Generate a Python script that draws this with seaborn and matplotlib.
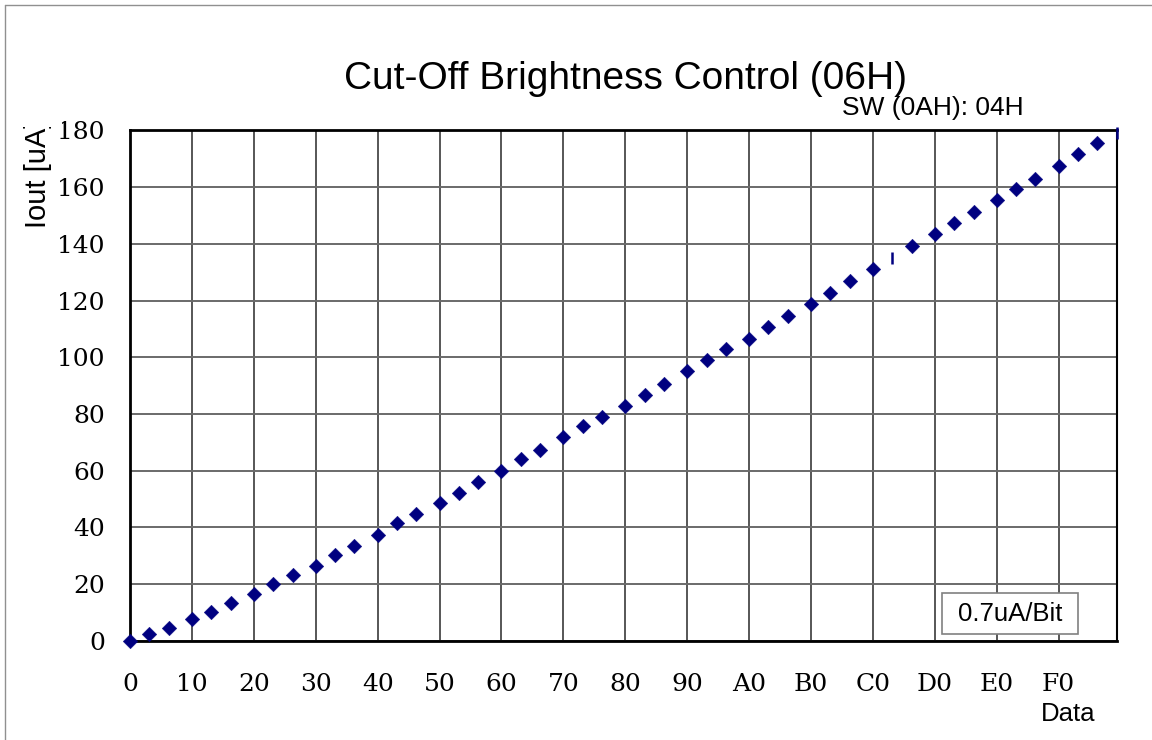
import numpy as np
import pandas as pd
import matplotlib
import matplotlib.pyplot as plt
import seaborn as sns
from matplotlib.lines import Line2D
from matplotlib.patches import Rectangle

# register codes (hex) and measured output current [uA]
codes = [0x00, 0x05, 0x0A, 0x10, 0x15, 0x1A, 0x20, 0x25, 0x2A, 0x30, 0x35, 0x3A,
         0x40, 0x45, 0x4A, 0x50, 0x55, 0x5A, 0x60, 0x65, 0x6A, 0x70, 0x75, 0x7A,
         0x80, 0x85, 0x8A, 0x90, 0x95, 0x9A, 0xA0, 0xA5, 0xAA, 0xB0, 0xB5, 0xBA,
         0xC0, 0xC5, 0xCA, 0xD0, 0xD5, 0xDA, 0xE0, 0xE5, 0xEA, 0xF0, 0xF5, 0xFA,
         0xFF]
iout = [0.0, 2.4, 4.4, 7.5, 10.0, 13.4, 16.6, 19.9, 23.1, 26.2, 30.2, 33.4,
        37.3, 41.4, 44.6, 48.5, 52.2, 56.1, 60.0, 64.0, 67.2, 71.9, 75.6, 78.8,
        82.7, 86.6, 90.4, 95.1, 99.0, 102.8, 106.5, 110.7, 114.5, 118.9, 122.8, 126.8,
        131.2, 135.1, 139.2, 143.5, 147.4, 151.3, 155.3, 159.2, 163.0, 167.4, 171.6, 175.4,
        179.0]
# these two points show up as thin bars instead of diamonds in the original
bar_codes = [0xC5, 0xFF]

x_ticks = [0x00, 0x10, 0x20, 0x30, 0x40, 0x50, 0x60, 0x70,
           0x80, 0x90, 0xA0, 0xB0, 0xC0, 0xD0, 0xE0, 0xF0]
x_labels = ['0', '10', '20', '30', '40', '50', '60', '70',
            '80', '90', 'A0', 'B0', 'C0', 'D0', 'E0', 'F0']
y_ticks = [0, 20, 40, 60, 80, 100, 120, 140, 160, 180]

sns.set_style('white')
plt.rcParams['font.family'] = ['Liberation Sans', 'DejaVu Sans']
plt.rcParams['text.color'] = 'black'

W, H = 1152, 740
fig = plt.figure(figsize=(W / 100, H / 100), dpi=100)
ax = fig.add_axes([130 / W, 1 - 640.7 / H, 986.7 / W, 510.3 / H])

df = pd.DataFrame({'code': codes, 'iout': iout})
is_bar = df['code'].isin(bar_codes)

navy = '#000080'
sns.scatterplot(data=df[~is_bar], x='code', y='iout', marker='D', s=55,
                color=navy, edgecolor=navy, linewidth=0.3, ax=ax,
                clip_on=False, zorder=4, legend=False)
sns.scatterplot(data=df[is_bar], x='code', y='iout', marker='|', s=85,
                color=navy, linewidth=1.8, ax=ax,
                clip_on=False, zorder=4, legend=False)

ax.set_xlim(0, 255)
ax.set_ylim(0, 180)
ax.set_xticks(x_ticks)
ax.set_xticklabels(x_labels)
ax.set_yticks(y_ticks)
ax.set_xlabel('')
ax.set_ylabel('')

ax.grid(axis='x', color='#3a3a3a', lw=1.2)
ax.grid(axis='y', color='#6a6a6a', lw=1.4)
ax.set_axisbelow(True)

for side in ['left', 'bottom', 'top']:
    ax.spines[side].set_linewidth(2)
    ax.spines[side].set_color('black')
ax.spines['right'].set_linewidth(1.5)
ax.spines['right'].set_color('black')

ax.tick_params(axis='both', direction='in', length=7, width=1.5, color='black',
               labelsize=18, labelcolor='black', labelfontfamily='DejaVu Serif')
ax.tick_params(axis='x', pad=23)
ax.tick_params(axis='y', pad=18)

fig.text(625 / W, 1 - 89 / H, 'Cut-Off Brightness Control (06H)',
         ha='center', va='baseline', fontsize=28)
fig.text(842 / W, 1 - 115 / H, 'SW (0AH): 04H',
         ha='left', va='baseline', fontsize=19)
fig.text(1041 / W, 1 - 721 / H, 'Data',
         ha='left', va='baseline', fontsize=18.5)

fig.text(38 / W, 1 - 228 / H, 'Iout [uA]', rotation=90,
         ha='center', va='bottom', fontsize=21, zorder=3)
# the top of the axis title is cut off in the original
fig.patches.append(Rectangle((12 / W, 1 - 127 / H), 50 / W, 40 / H,
                             transform=fig.transFigure, facecolor='white',
                             edgecolor='none', zorder=10))

box = Rectangle((941.7 / W, 1 - 634 / H), 136.6 / W, 40.7 / H,
                transform=fig.transFigure, facecolor='white',
                edgecolor='#808080', lw=1.2, zorder=5)
fig.patches.append(box)
fig.text(1010 / W, 1 - 614 / H, '0.7uA/Bit', ha='center', va='center',
         fontsize=18.5, zorder=6)

# outer frame (only left and top edges are visible)
fig.lines.append(Line2D([5 / W, 5 / W], [0, 1 - 5 / H], transform=fig.transFigure,
                        color='#909090', lw=1))
fig.lines.append(Line2D([5 / W, 1], [1 - 5 / H, 1 - 5 / H], transform=fig.transFigure,
                        color='#909090', lw=1))

fig.savefig('out.png', dpi=100)
